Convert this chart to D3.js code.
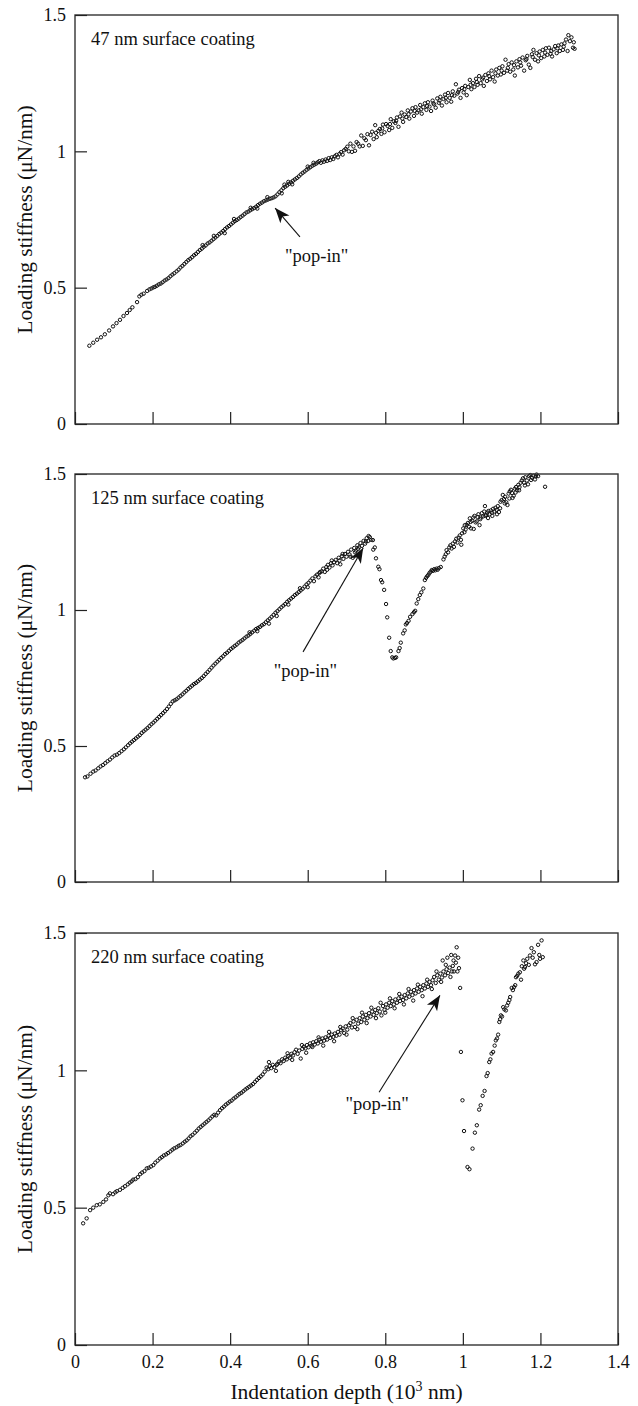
<!DOCTYPE html>
<html>
<head>
<meta charset="utf-8">
<script src="https://cdn.jsdelivr.net/npm/d3@7"></script>
<style>
  body { margin: 0; background: #fff; }
  svg { display: block; }
  text { font-family: "Liberation Serif", "Times New Roman", serif; fill: #111; }
</style>
</head>
<body>
<svg id="chart" width="638" height="1406"></svg>
<script>
const xTicks = [0, 0.2, 0.4, 0.6, 0.8, 1, 1.2, 1.4];
const yTicks = [0, 0.5, 1, 1.5];
const panelTitles = ["47 nm surface coating", "125 nm surface coating", "220 nm surface coating"];

// [depth (10^3 nm), loading stiffness (uN/nm)]
const coat47 = [
  [0.037,0.287],[0.047,0.298],[0.057,0.309],[0.067,0.318],[0.077,0.329],[0.088,0.343],[0.098,0.358],[0.107,0.370],
  [0.116,0.382],[0.125,0.396],[0.134,0.407],[0.141,0.418],[0.148,0.428],[0.160,0.447],[0.166,0.468],[0.171,0.474],
  [0.177,0.478],[0.186,0.488],[0.192,0.494],[0.197,0.497],[0.202,0.501],[0.206,0.503],[0.211,0.507],[0.216,0.512],
  [0.221,0.515],[0.226,0.520],[0.231,0.526],[0.236,0.530],[0.241,0.535],[0.246,0.542],[0.251,0.548],[0.256,0.553],
  [0.262,0.560],[0.267,0.566],[0.272,0.574],[0.277,0.580],[0.282,0.587],[0.287,0.594],[0.292,0.601],[0.297,0.606],
  [0.302,0.612],[0.307,0.619],[0.312,0.624],[0.317,0.631],[0.322,0.638],[0.327,0.643],[0.329,0.656],[0.332,0.650],
  [0.337,0.655],[0.342,0.662],[0.347,0.666],[0.352,0.672],[0.357,0.678],[0.358,0.690],[0.362,0.684],[0.367,0.690],
  [0.372,0.697],[0.377,0.702],[0.382,0.708],[0.386,0.700],[0.387,0.715],[0.392,0.721],[0.397,0.726],[0.402,0.732],
  [0.407,0.738],[0.410,0.752],[0.412,0.744],[0.417,0.748],[0.422,0.753],[0.427,0.759],[0.432,0.764],[0.437,0.770],
  [0.442,0.776],[0.447,0.779],[0.452,0.784],[0.453,0.793],[0.457,0.788],[0.462,0.792],[0.467,0.797],[0.470,0.790],
  [0.472,0.803],[0.477,0.808],[0.482,0.812],[0.487,0.817],[0.492,0.820],[0.496,0.832],[0.497,0.823],[0.502,0.826],
  [0.507,0.828],[0.512,0.831],[0.517,0.835],[0.522,0.842],[0.527,0.850],[0.532,0.857],[0.533,0.846],[0.537,0.865],
  [0.540,0.878],[0.542,0.870],[0.547,0.875],[0.550,0.888],[0.552,0.881],[0.557,0.886],[0.560,0.879],[0.562,0.892],
  [0.567,0.897],[0.572,0.902],[0.577,0.908],[0.582,0.915],[0.587,0.921],[0.592,0.926],[0.597,0.932],[0.600,0.944],
  [0.602,0.937],[0.607,0.942],[0.612,0.947],[0.615,0.958],[0.617,0.951],[0.622,0.955],[0.626,0.960],[0.630,0.964],
  [0.634,0.958],[0.638,0.967],[0.642,0.962],[0.646,0.970],[0.650,0.965],[0.654,0.975],[0.658,0.968],[0.662,0.978],
  [0.666,0.972],[0.670,0.982],[0.674,0.987],[0.678,0.978],[0.682,0.991],[0.686,0.997],[0.690,0.988],[0.694,1.004],
  [0.698,1.009],[0.702,1.017],[0.706,1.000],[0.710,1.028],[0.714,0.998],[0.718,1.018],[0.722,1.002],[0.726,1.034],
  [0.730,1.028],[0.734,1.018],[0.738,1.058],[0.742,1.020],[0.746,1.048],[0.750,1.041],[0.754,1.063],[0.758,1.022],
  [0.762,1.060],[0.766,1.072],[0.770,1.045],[0.774,1.096],[0.776,1.068],[0.778,1.052],[0.782,1.075],[0.786,1.082],
  [0.790,1.064],[0.792,1.084],[0.794,1.098],[0.798,1.070],[0.802,1.100],[0.806,1.093],[0.810,1.078],[0.812,1.100],
  [0.814,1.118],[0.818,1.086],[0.822,1.110],[0.826,1.104],[0.828,1.112],[0.830,1.124],[0.834,1.090],[0.838,1.128],
  [0.842,1.142],[0.844,1.120],[0.846,1.108],[0.850,1.135],[0.854,1.126],[0.858,1.150],[0.860,1.136],[0.862,1.120],
  [0.866,1.146],[0.870,1.158],[0.874,1.130],[0.876,1.148],[0.878,1.162],[0.882,1.142],[0.886,1.150],[0.890,1.170],
  [0.892,1.154],[0.894,1.138],[0.898,1.162],[0.902,1.176],[0.906,1.152],[0.908,1.166],[0.910,1.180],[0.914,1.164],
  [0.918,1.148],[0.922,1.186],[0.924,1.176],[0.926,1.172],[0.930,1.160],[0.934,1.194],[0.938,1.178],[0.940,1.186],
  [0.942,1.200],[0.946,1.168],[0.950,1.192],[0.954,1.208],[0.956,1.196],[0.958,1.180],[0.962,1.214],[0.966,1.196],
  [0.970,1.182],[0.972,1.206],[0.974,1.220],[0.978,1.204],[0.982,1.246],[0.986,1.212],[0.988,1.218],[0.990,1.226],
  [0.994,1.196],[0.998,1.232],[1.002,1.216],[1.004,1.228],[1.006,1.240],[1.010,1.206],[1.014,1.236],[1.018,1.262],
  [1.020,1.244],[1.022,1.228],[1.026,1.250],[1.030,1.236],[1.034,1.266],[1.036,1.254],[1.038,1.244],[1.042,1.276],
  [1.046,1.250],[1.050,1.264],[1.052,1.270],[1.054,1.240],[1.058,1.280],[1.062,1.258],[1.066,1.286],[1.068,1.276],
  [1.070,1.264],[1.074,1.296],[1.078,1.272],[1.082,1.256],[1.084,1.286],[1.086,1.300],[1.090,1.278],[1.094,1.306],
  [1.098,1.282],[1.100,1.296],[1.102,1.312],[1.106,1.288],[1.110,1.336],[1.114,1.296],[1.116,1.306],[1.118,1.320],
  [1.122,1.292],[1.126,1.326],[1.130,1.300],[1.132,1.316],[1.134,1.278],[1.138,1.330],[1.142,1.308],[1.146,1.338],
  [1.148,1.326],[1.150,1.314],[1.154,1.344],[1.158,1.296],[1.162,1.334],[1.164,1.338],[1.166,1.350],[1.170,1.318],
  [1.174,1.306],[1.178,1.356],[1.180,1.346],[1.182,1.372],[1.186,1.336],[1.190,1.360],[1.194,1.330],[1.196,1.352],
  [1.198,1.366],[1.202,1.342],[1.206,1.372],[1.210,1.348],[1.212,1.362],[1.214,1.378],[1.218,1.354],[1.222,1.380],
  [1.226,1.358],[1.228,1.368],[1.230,1.348],[1.234,1.374],[1.238,1.386],[1.242,1.360],[1.244,1.378],[1.246,1.388],
  [1.250,1.368],[1.254,1.392],[1.258,1.372],[1.260,1.384],[1.262,1.396],[1.266,1.410],[1.270,1.368],[1.272,1.426],
  [1.276,1.404],[1.280,1.418],[1.284,1.380],[1.286,1.400],[1.288,1.376]
];

const coat125 = [
  [0.026,0.385],[0.032,0.388],[0.040,0.398],[0.047,0.406],[0.053,0.410],[0.060,0.418],[0.066,0.425],[0.072,0.430],
  [0.078,0.437],[0.084,0.444],[0.090,0.450],[0.096,0.458],[0.102,0.465],[0.108,0.468],[0.114,0.474],[0.120,0.481],
  [0.126,0.488],[0.131,0.495],[0.137,0.503],[0.142,0.510],[0.147,0.516],[0.152,0.522],[0.157,0.528],[0.162,0.534],
  [0.167,0.540],[0.172,0.548],[0.177,0.554],[0.182,0.560],[0.187,0.566],[0.192,0.573],[0.197,0.580],[0.202,0.586],
  [0.207,0.593],[0.212,0.600],[0.217,0.607],[0.222,0.614],[0.227,0.621],[0.232,0.628],[0.237,0.636],[0.242,0.645],
  [0.247,0.655],[0.252,0.664],[0.257,0.668],[0.262,0.672],[0.267,0.678],[0.272,0.684],[0.277,0.690],[0.282,0.697],
  [0.287,0.703],[0.292,0.710],[0.297,0.716],[0.302,0.722],[0.307,0.728],[0.312,0.732],[0.317,0.738],[0.322,0.744],
  [0.327,0.750],[0.332,0.757],[0.337,0.765],[0.342,0.772],[0.347,0.780],[0.352,0.788],[0.357,0.796],[0.362,0.803],
  [0.367,0.810],[0.372,0.817],[0.377,0.824],[0.382,0.830],[0.387,0.838],[0.392,0.843],[0.397,0.850],[0.402,0.857],
  [0.407,0.862],[0.412,0.868],[0.417,0.873],[0.422,0.880],[0.427,0.885],[0.432,0.890],[0.437,0.896],[0.442,0.902],
  [0.447,0.906],[0.450,0.918],[0.452,0.912],[0.457,0.918],[0.462,0.924],[0.467,0.930],[0.470,0.922],[0.472,0.934],
  [0.477,0.938],[0.482,0.944],[0.487,0.948],[0.492,0.955],[0.497,0.962],[0.500,0.950],[0.502,0.968],[0.507,0.975],
  [0.512,0.982],[0.517,0.990],[0.520,0.978],[0.522,0.996],[0.527,1.003],[0.532,1.010],[0.537,1.016],[0.542,1.022],
  [0.547,1.030],[0.550,1.020],[0.552,1.036],[0.557,1.042],[0.562,1.048],[0.567,1.055],[0.572,1.060],[0.577,1.066],
  [0.580,1.080],[0.582,1.072],[0.587,1.078],[0.592,1.086],[0.597,1.094],[0.600,1.084],[0.602,1.100],[0.607,1.108],
  [0.612,1.116],[0.616,1.106],[0.620,1.124],[0.624,1.130],[0.628,1.120],[0.630,1.136],[0.632,1.140],[0.636,1.142],
  [0.640,1.152],[0.644,1.140],[0.648,1.158],[0.650,1.148],[0.652,1.166],[0.656,1.156],[0.660,1.172],[0.662,1.182],
  [0.664,1.164],[0.668,1.176],[0.672,1.184],[0.676,1.172],[0.680,1.192],[0.682,1.182],[0.684,1.168],[0.688,1.198],
  [0.690,1.206],[0.692,1.188],[0.696,1.206],[0.700,1.196],[0.704,1.214],[0.708,1.204],[0.710,1.196],[0.712,1.222],
  [0.716,1.192],[0.720,1.228],[0.722,1.212],[0.724,1.218],[0.728,1.238],[0.730,1.224],[0.732,1.230],[0.736,1.246],
  [0.740,1.236],[0.744,1.254],[0.748,1.244],[0.750,1.252],[0.752,1.264],[0.756,1.254],[0.757,1.272],[0.760,1.268],
  [0.764,1.258],[0.768,1.257],[0.769,1.222],[0.773,1.230],[0.776,1.190],[0.782,1.159],[0.785,1.150],[0.789,1.110],
  [0.792,1.102],[0.797,1.074],[0.802,1.022],[0.805,0.973],[0.810,0.898],[0.814,0.849],[0.818,0.826],[0.821,0.822],
  [0.825,0.824],[0.828,0.826],[0.834,0.849],[0.837,0.860],[0.840,0.880],[0.846,0.914],[0.850,0.925],[0.853,0.947],
  [0.856,0.952],[0.860,0.960],[0.864,0.975],[0.870,0.985],[0.874,0.992],[0.877,0.997],[0.881,1.024],[0.885,1.040],
  [0.889,1.055],[0.893,1.065],[0.898,1.079],[0.902,1.110],[0.905,1.118],[0.908,1.124],[0.911,1.129],[0.914,1.136],
  [0.917,1.141],[0.920,1.147],[0.923,1.144],[0.926,1.150],[0.929,1.146],[0.932,1.152],[0.935,1.148],[0.938,1.154],
  [0.943,1.158],[0.950,1.186],[0.953,1.196],[0.956,1.205],[0.958,1.220],[0.962,1.212],[0.965,1.230],[0.968,1.238],
  [0.971,1.226],[0.974,1.244],[0.977,1.232],[0.980,1.252],[0.983,1.262],[0.986,1.248],[0.989,1.266],[0.992,1.274],
  [0.995,1.258],[0.996,1.240],[0.998,1.282],[1.001,1.300],[1.004,1.286],[1.005,1.312],[1.007,1.296],[1.010,1.313],
  [1.013,1.320],[1.016,1.306],[1.018,1.337],[1.020,1.324],[1.021,1.300],[1.024,1.328],[1.027,1.340],[1.028,1.298],
  [1.030,1.346],[1.033,1.322],[1.036,1.326],[1.038,1.342],[1.040,1.352],[1.043,1.312],[1.045,1.334],[1.046,1.340],
  [1.049,1.356],[1.052,1.344],[1.055,1.362],[1.057,1.382],[1.058,1.346],[1.060,1.350],[1.063,1.358],[1.065,1.338],
  [1.066,1.364],[1.069,1.352],[1.072,1.366],[1.075,1.358],[1.076,1.346],[1.078,1.372],[1.081,1.362],[1.084,1.376],
  [1.087,1.368],[1.088,1.352],[1.090,1.382],[1.093,1.360],[1.096,1.374],[1.097,1.398],[1.100,1.404],[1.103,1.423],
  [1.106,1.408],[1.108,1.392],[1.109,1.416],[1.112,1.396],[1.115,1.386],[1.118,1.428],[1.120,1.410],[1.121,1.436],
  [1.124,1.442],[1.127,1.430],[1.128,1.412],[1.131,1.420],[1.134,1.446],[1.136,1.432],[1.137,1.452],[1.140,1.440],
  [1.143,1.460],[1.145,1.440],[1.146,1.452],[1.149,1.468],[1.152,1.476],[1.155,1.484],[1.158,1.468],[1.160,1.458],
  [1.161,1.488],[1.165,1.476],[1.168,1.462],[1.171,1.492],[1.174,1.496],[1.176,1.478],[1.178,1.486],[1.182,1.494],
  [1.186,1.480],[1.188,1.492],[1.190,1.498],[1.194,1.492],[1.212,1.453]
];

const coat220 = [
  [0.021,0.443],[0.030,0.461],[0.039,0.491],[0.047,0.500],[0.056,0.509],[0.064,0.512],[0.073,0.521],[0.080,0.530],
  [0.086,0.545],[0.090,0.552],[0.098,0.549],[0.104,0.556],[0.108,0.560],[0.116,0.565],[0.123,0.572],[0.129,0.578],
  [0.136,0.585],[0.141,0.591],[0.146,0.596],[0.150,0.602],[0.156,0.604],[0.162,0.611],[0.168,0.622],[0.173,0.628],
  [0.179,0.633],[0.185,0.643],[0.190,0.645],[0.196,0.650],[0.202,0.655],[0.207,0.664],[0.213,0.671],[0.219,0.679],
  [0.224,0.684],[0.229,0.690],[0.235,0.694],[0.240,0.699],[0.246,0.705],[0.251,0.711],[0.256,0.716],[0.262,0.720],
  [0.267,0.725],[0.272,0.728],[0.278,0.734],[0.283,0.740],[0.288,0.745],[0.293,0.752],[0.298,0.760],[0.303,0.765],
  [0.309,0.773],[0.314,0.780],[0.319,0.788],[0.324,0.794],[0.329,0.800],[0.334,0.806],[0.339,0.812],[0.344,0.818],
  [0.349,0.825],[0.354,0.832],[0.359,0.838],[0.364,0.836],[0.369,0.846],[0.374,0.855],[0.379,0.862],[0.384,0.868],
  [0.389,0.875],[0.394,0.880],[0.399,0.886],[0.404,0.890],[0.409,0.897],[0.414,0.902],[0.419,0.908],[0.424,0.914],
  [0.429,0.918],[0.434,0.924],[0.439,0.930],[0.444,0.935],[0.449,0.940],[0.454,0.945],[0.459,0.950],[0.464,0.958],
  [0.469,0.965],[0.474,0.972],[0.479,0.978],[0.484,0.985],[0.489,0.995],[0.494,1.010],[0.498,1.004],[0.500,1.030],
  [0.502,1.016],[0.506,1.008],[0.510,1.020],[0.514,1.012],[0.518,0.998],[0.520,1.020],[0.522,1.024],[0.526,1.032],
  [0.530,1.026],[0.534,1.040],[0.538,1.034],[0.542,1.046],[0.546,1.040],[0.548,1.062],[0.550,1.052],[0.554,1.046],
  [0.558,1.060],[0.560,1.038],[0.562,1.054],[0.566,1.066],[0.570,1.075],[0.574,1.060],[0.578,1.072],[0.582,1.043],
  [0.585,1.092],[0.586,1.078],[0.590,1.086],[0.594,1.080],[0.596,1.064],[0.598,1.092],[0.602,1.084],[0.606,1.098],
  [0.610,1.090],[0.612,1.085],[0.614,1.102],[0.618,1.094],[0.622,1.106],[0.626,1.098],[0.628,1.120],[0.630,1.112],
  [0.634,1.104],[0.638,1.116],[0.640,1.090],[0.642,1.108],[0.646,1.120],[0.650,1.112],[0.654,1.126],[0.655,1.140],
  [0.658,1.118],[0.662,1.130],[0.666,1.122],[0.668,1.106],[0.670,1.134],[0.674,1.126],[0.678,1.140],[0.682,1.130],
  [0.684,1.158],[0.686,1.146],[0.690,1.152],[0.694,1.136],[0.698,1.160],[0.700,1.130],[0.702,1.148],[0.706,1.164],
  [0.710,1.172],[0.714,1.156],[0.716,1.190],[0.718,1.178],[0.722,1.158],[0.726,1.184],[0.728,1.150],[0.730,1.170],
  [0.734,1.190],[0.738,1.176],[0.740,1.210],[0.742,1.196],[0.746,1.184],[0.750,1.202],[0.752,1.172],[0.754,1.190],
  [0.758,1.208],[0.762,1.196],[0.764,1.228],[0.766,1.214],[0.770,1.202],[0.774,1.220],[0.776,1.190],[0.778,1.208],
  [0.782,1.226],[0.786,1.214],[0.788,1.246],[0.790,1.200],[0.794,1.234],[0.798,1.220],[0.800,1.210],[0.802,1.240],
  [0.806,1.228],[0.810,1.246],[0.812,1.262],[0.814,1.234],[0.818,1.252],[0.822,1.240],[0.824,1.226],[0.826,1.258],
  [0.830,1.246],[0.834,1.262],[0.836,1.278],[0.838,1.252],[0.842,1.268],[0.846,1.256],[0.848,1.240],[0.850,1.274],
  [0.854,1.262],[0.858,1.280],[0.860,1.296],[0.862,1.268],[0.866,1.286],[0.870,1.274],[0.872,1.254],[0.874,1.292],
  [0.878,1.280],[0.882,1.298],[0.884,1.312],[0.886,1.286],[0.890,1.304],[0.894,1.292],[0.896,1.270],[0.898,1.310],
  [0.902,1.298],[0.906,1.316],[0.908,1.330],[0.910,1.304],[0.914,1.322],[0.918,1.310],[0.920,1.296],[0.922,1.328],
  [0.926,1.340],[0.930,1.318],[0.932,1.360],[0.934,1.346],[0.938,1.330],[0.942,1.352],[0.944,1.322],[0.946,1.338],
  [0.948,1.400],[0.950,1.360],[0.954,1.346],[0.956,1.384],[0.958,1.368],[0.960,1.410],[0.962,1.354],[0.966,1.374],
  [0.968,1.340],[0.970,1.420],[0.972,1.360],[0.974,1.380],[0.976,1.400],[0.977,1.360],[0.980,1.418],[0.982,1.392],
  [0.984,1.448],[0.986,1.360],[0.988,1.410],[0.990,1.372],[0.993,1.300],[0.995,1.067],[0.999,0.891],[1.003,0.779],
  [1.012,0.648],[1.017,0.640],[1.025,0.715],[1.031,0.773],[1.036,0.800],[1.042,0.857],[1.046,0.873],[1.051,0.907],
  [1.056,0.925],[1.061,0.979],[1.064,0.990],[1.068,1.030],[1.071,1.040],[1.074,1.061],[1.078,1.067],[1.082,1.090],
  [1.085,1.109],[1.088,1.116],[1.091,1.130],[1.094,1.176],[1.096,1.186],[1.098,1.200],[1.101,1.196],[1.104,1.230],
  [1.107,1.222],[1.111,1.218],[1.114,1.236],[1.117,1.246],[1.120,1.256],[1.122,1.267],[1.126,1.300],[1.129,1.292],
  [1.132,1.303],[1.135,1.310],[1.137,1.339],[1.140,1.344],[1.143,1.352],[1.147,1.357],[1.150,1.330],[1.152,1.379],
  [1.156,1.400],[1.158,1.370],[1.160,1.376],[1.163,1.390],[1.166,1.406],[1.170,1.384],[1.173,1.418],[1.177,1.445],
  [1.180,1.410],[1.183,1.430],[1.186,1.386],[1.190,1.394],[1.194,1.457],[1.197,1.420],[1.199,1.406],[1.203,1.473],
  [1.206,1.412]
];

// "pop-in" arrows in data units: [headX, headY, tailX, tailY, labelX, labelBaselineY]
const popInNotes = [
  [0.516, 0.792, 0.580, 0.686, 0.623, 0.594],
  [0.743, 1.228, 0.588, 0.846, 0.594, 0.754],
  [0.941, 1.273, 0.784, 0.920, 0.779, 0.855]
];

const seriesList = [coat47, coat125, coat220];

const left = 75, right = 618;
const panelBox = [
  {top: 15, bottom: 424},
  {top: 474, bottom: 882},
  {top: 933, bottom: 1345}
];
const serif = '"Liberation Serif", "Times New Roman", serif';

const svg = d3.select("#chart");

svg.append("defs").append("marker")
    .attr("id", "arrowHead")
    .attr("viewBox", "-16 -7 17 14")
    .attr("markerUnits", "userSpaceOnUse")
    .attr("markerWidth", 17)
    .attr("markerHeight", 14)
    .attr("refX", 0)
    .attr("refY", 0)
    .attr("orient", "auto")
  .append("path")
    .attr("d", "M0,0 L-15,-6 L-11,0 L-15,6 Z")
    .attr("fill", "#111");

const x = d3.scaleLinear().domain([0, 1.4]).range([left, right]);

panelBox.forEach(function (box, i) {
    let y = d3.scaleLinear().domain([0, 1.5]).range([box.bottom, box.top]);
    let g = svg.append("g");

    // points
    g.append("g")
        .selectAll("circle")
        .data(seriesList[i])
        .join("circle")
        .attr("cx", d => x(d[0]))
        .attr("cy", d => y(d[1]))
        .attr("r", 1.7)
        .attr("fill", "none")
        .attr("stroke", "#111")
        .attr("stroke-width", 1);

    // frame
    g.append("rect")
        .attr("x", left)
        .attr("y", box.top)
        .attr("width", right - left)
        .attr("height", box.bottom - box.top)
        .attr("fill", "none")
        .attr("stroke", "#333")
        .attr("stroke-width", 1.4);

    let yAxis = g.append("g")
        .attr("transform", "translate(" + left + ",0)")
        .call(d3.axisLeft(y).tickValues(yTicks).tickSize(-12).tickPadding(9).tickFormat(d3.format("~g")));
    yAxis.select(".domain").remove();

    let xAxis = g.append("g")
        .attr("transform", "translate(0," + box.bottom + ")")
        .call(d3.axisBottom(x).tickValues(xTicks).tickSize(-12).tickPadding(10)
            .tickFormat(i === 2 ? d3.format("~g") : () => ""));
    xAxis.select(".domain").remove();

    [yAxis, xAxis].forEach(function (a) {
        a.attr("font-family", serif).attr("font-size", 18).attr("color", "#222");
        a.selectAll(".tick line").attr("stroke-width", 1.2);
        a.selectAll(".tick text").attr("fill", "#111");
    });

    // panel title
    g.append("text")
        .attr("x", left + 16)
        .attr("y", box.top + 30)
        .attr("font-size", 18.5)
        .text(panelTitles[i]);

    // y axis title
    g.append("text")
        .attr("transform", "translate(32," + ((box.top + box.bottom) / 2) + ") rotate(-90)")
        .attr("text-anchor", "middle")
        .attr("font-size", 21.5)
        .text("Loading stiffness (\u03bcN/nm)");

    // pop-in annotation
    let note = popInNotes[i];
    g.append("line")
        .attr("x1", x(note[2]))
        .attr("y1", y(note[3]))
        .attr("x2", x(note[0]))
        .attr("y2", y(note[1]))
        .attr("stroke", "#111")
        .attr("stroke-width", 1.1)
        .attr("marker-end", "url(#arrowHead)");

    g.append("text")
        .attr("x", x(note[4]))
        .attr("y", y(note[5]))
        .attr("text-anchor", "middle")
        .attr("font-size", 18.5)
        .text("\"pop-in\"");
});

// x axis title
let xTitle = svg.append("text")
    .attr("x", (left + right) / 2)
    .attr("y", 1399)
    .attr("text-anchor", "middle")
    .attr("font-size", 21.5);
xTitle.append("tspan").text("Indentation depth (10");
xTitle.append("tspan").attr("font-size", 14).attr("dy", -8).text("3");
xTitle.append("tspan").attr("dy", 8).text(" nm)");
</script>
</body>
</html>
